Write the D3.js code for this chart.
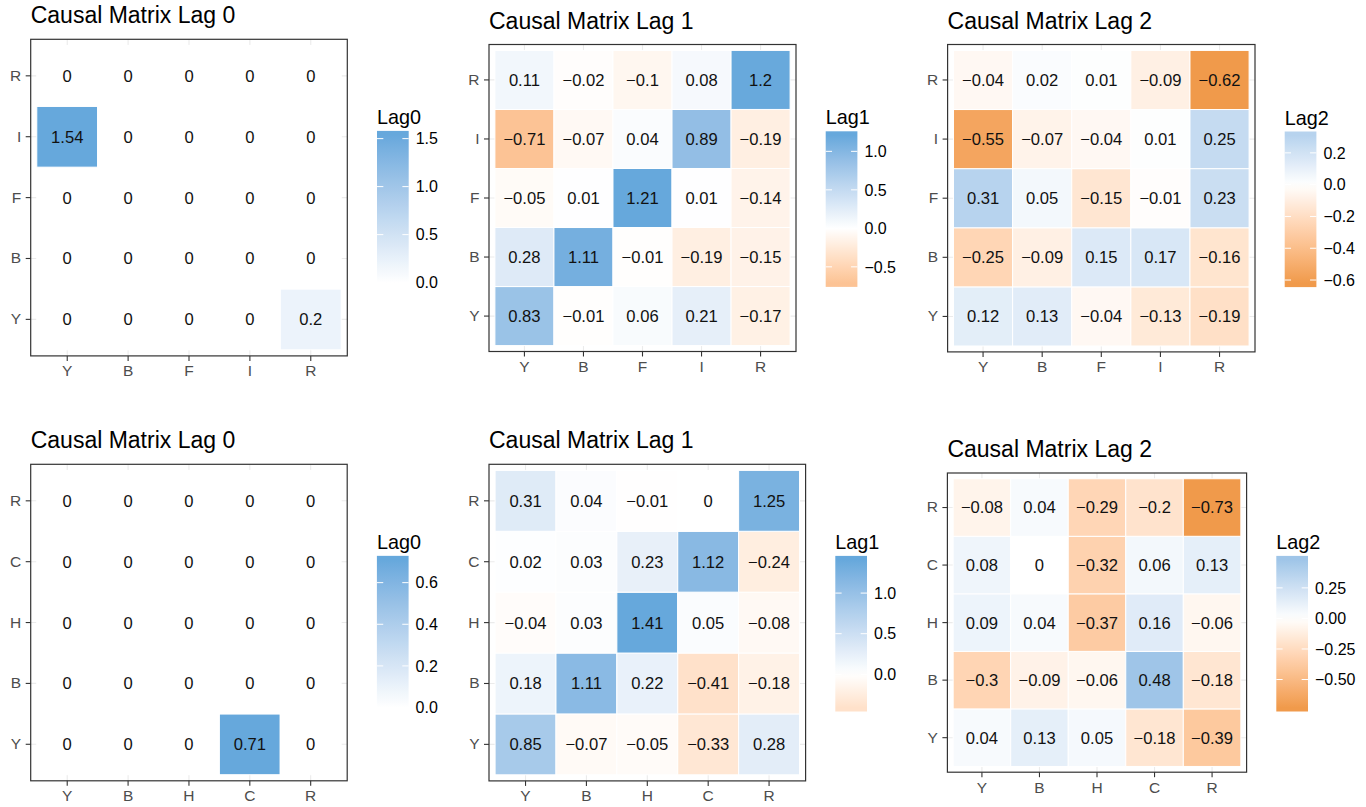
<!DOCTYPE html>
<html><head><meta charset="utf-8">
<script src="https://cdn.jsdelivr.net/npm/d3@7"></script>
<style>
body{margin:0;background:#fff}
svg{display:block}
text{font-family:"Liberation Sans",Arial,Helvetica,sans-serif}
.axis text{font-size:15.5px;fill:#4D4D4D}
</style>
</head><body>
<svg id="chart" width="1366" height="807"></svg>
<script>
// ---------------- data ----------------
const varsTop = ["Y", "B", "F", "I", "R"];
const varsBottom = ["Y", "B", "H", "C", "R"];

// rows follow the y categories (bottom to top), columns follow the x categories
const lag0Top = [
  [0, 0, 0, 0, 0.2],   // Y
  [0, 0, 0, 0, 0],     // B
  [0, 0, 0, 0, 0],     // F
  [1.54, 0, 0, 0, 0],  // I
  [0, 0, 0, 0, 0]      // R
];
const lag1Top = [
  [0.83, -0.01, 0.06, 0.21, -0.17],
  [0.28, 1.11, -0.01, -0.19, -0.15],
  [-0.05, 0.01, 1.21, 0.01, -0.14],
  [-0.71, -0.07, 0.04, 0.89, -0.19],
  [0.11, -0.02, -0.1, 0.08, 1.2]
];
const lag2Top = [
  [0.12, 0.13, -0.04, -0.13, -0.19],
  [-0.25, -0.09, 0.15, 0.17, -0.16],
  [0.31, 0.05, -0.15, -0.01, 0.23],
  [-0.55, -0.07, -0.04, 0.01, 0.25],
  [-0.04, 0.02, 0.01, -0.09, -0.62]
];
const lag0Bottom = [
  [0, 0, 0, 0.71, 0],
  [0, 0, 0, 0, 0],
  [0, 0, 0, 0, 0],
  [0, 0, 0, 0, 0],
  [0, 0, 0, 0, 0]
];
const lag1Bottom = [
  [0.85, -0.07, -0.05, -0.33, 0.28],
  [0.18, 1.11, 0.22, -0.41, -0.18],
  [-0.04, 0.03, 1.41, 0.05, -0.08],
  [0.02, 0.03, 0.23, 1.12, -0.24],
  [0.31, 0.04, -0.01, 0, 1.25]
];
const lag2Bottom = [
  [0.04, 0.13, 0.05, -0.18, -0.39],
  [-0.3, -0.09, -0.06, 0.48, -0.18],
  [0.09, 0.04, -0.37, 0.16, -0.06],
  [0.08, 0, -0.32, 0.06, 0.13],
  [-0.08, 0.04, -0.29, -0.2, -0.73]
];

const titles = ["Causal Matrix Lag 0", "Causal Matrix Lag 1", "Causal Matrix Lag 2",
                "Causal Matrix Lag 0", "Causal Matrix Lag 1", "Causal Matrix Lag 2"];
const legendTitles = ["Lag0", "Lag1", "Lag2", "Lag0", "Lag1", "Lag2"];
const legendTicksLag0Top = ["0.0", "0.5", "1.0", "1.5"];
const legendTicksLag1Top = ["-0.5", "0.0", "0.5", "1.0"];
const legendTicksLag2Top = ["-0.6", "-0.4", "-0.2", "0.0", "0.2"];
const legendTicksLag0Bottom = ["0.0", "0.2", "0.4", "0.6"];
const legendTicksLag1Bottom = ["0.0", "0.5", "1.0"];
const legendTicksLag2Bottom = ["-0.50", "-0.25", "0.00", "0.25"];

const panelData = [
  {vars: varsTop, values: lag0Top, ticks: legendTicksLag0Top},
  {vars: varsTop, values: lag1Top, ticks: legendTicksLag1Top},
  {vars: varsTop, values: lag2Top, ticks: legendTicksLag2Top},
  {vars: varsBottom, values: lag0Bottom, ticks: legendTicksLag0Bottom},
  {vars: varsBottom, values: lag1Bottom, ticks: legendTicksLag1Bottom},
  {vars: varsBottom, values: lag2Bottom, ticks: legendTicksLag2Bottom}
];

// ---------------- layout & style ----------------
const layout = [
  {x: 30.7, y: 39.3, size: 316.6},
  {x: 489.0, y: 44.5, size: 307.0},
  {x: 947.6, y: 44.5, size: 307.4},
  {x: 30.7, y: 464.3, size: 316.5},
  {x: 489.0, y: 464.3, size: 316.6},
  {x: 947.4, y: 473.0, size: 299.2}
];
const LOW = "#F09A4B", MID = "#FFFFFF", HIGH = "#66A8DC";
const BAR_W = 31.7, BAR_H = 155.6;
const minus = s => String(s).replace(/-/g, "\u2212");

const svg = d3.select("#chart");
svg.append("rect").attr("width", 1366).attr("height", 807).attr("fill", "#fff");
let gradId = 0;

panelData.forEach((pd, i) => {
  const L = layout[i];
  const g = svg.append("g");
  const x0 = L.x, y0 = L.y, s = L.size;

  const x = d3.scaleBand().domain(pd.vars).range([x0, x0 + s]).paddingInner(0).paddingOuter(0.1);
  const y = d3.scaleBand().domain(pd.vars).range([y0 + s, y0]).paddingInner(0).paddingOuter(0.1);

  const cells = [];
  pd.values.forEach((row, r) => row.forEach((v, c) => cells.push({xv: pd.vars[c], yv: pd.vars[r], v})));
  const vmin = d3.min(cells, d => d.v), vmax = d3.max(cells, d => d.v);
  const m = Math.max(Math.abs(vmin), Math.abs(vmax));
  const color = d3.scaleLinear().domain([-m, 0, m]).range([LOW, MID, HIGH]).interpolate(d3.interpolateLab);

  // panel background + grid
  g.append("rect").attr("x", x0).attr("y", y0).attr("width", s).attr("height", s).attr("fill", "#fff");
  pd.vars.forEach(v => {
    const cx = x(v) + x.bandwidth() / 2, cy = y(v) + y.bandwidth() / 2;
    g.append("line").attr("x1", cx).attr("x2", cx).attr("y1", y0).attr("y2", y0 + s)
      .attr("stroke", "#EBEBEB").attr("stroke-width", 1.1);
    g.append("line").attr("x1", x0).attr("x2", x0 + s).attr("y1", cy).attr("y2", cy)
      .attr("stroke", "#EBEBEB").attr("stroke-width", 1.1);
  });

  // tiles
  g.selectAll("rect.tile").data(cells).join("rect").attr("class", "tile")
    .attr("x", d => x(d.xv)).attr("y", d => y(d.yv))
    .attr("width", x.bandwidth()).attr("height", y.bandwidth())
    .attr("fill", d => color(d.v)).attr("stroke", "#fff").attr("stroke-width", 1);

  g.selectAll("text.cell").data(cells).join("text").attr("class", "cell")
    .attr("x", d => x(d.xv) + x.bandwidth() / 2).attr("y", d => y(d.yv) + y.bandwidth() / 2)
    .attr("dy", "0.36em").attr("text-anchor", "middle")
    .attr("font-size", 16.6).attr("fill", "#111")
    .text(d => minus(d.v));

  // border
  g.append("rect").attr("x", x0).attr("y", y0).attr("width", s).attr("height", s)
    .attr("fill", "none").attr("stroke", "#333").attr("stroke-width", 1.2);

  // axes
  const ax = g.append("g").attr("class", "axis").attr("transform", `translate(0,${y0 + s})`)
    .call(d3.axisBottom(x).tickSize(5).tickPadding(4.5));
  const ay = g.append("g").attr("class", "axis").attr("transform", `translate(${x0},0)`)
    .call(d3.axisLeft(y).tickSize(5).tickPadding(4.5));
  [ax, ay].forEach(a => {
    a.attr("font-size", 15.5).attr("font-family", "'Liberation Sans',Arial,Helvetica,sans-serif");
    a.select(".domain").remove();
    a.selectAll(".tick line").attr("stroke", "#333").attr("stroke-width", 1.1);
    a.selectAll(".tick text").attr("fill", "#4D4D4D");
  });

  // title
  g.append("text").attr("x", x0).attr("y", y0 - 16).attr("font-size", 23).attr("fill", "#000")
    .text(titles[i]);

  // legend
  const cy = y0 + s / 2;
  const bx = x0 + s + 29.7, by = cy - 66.7;
  const id = "grad" + (gradId++);
  const grad = svg.append("defs").append("linearGradient").attr("id", id)
    .attr("x1", 0).attr("y1", 1).attr("x2", 0).attr("y2", 0);
  const nbin = 20;
  d3.range(nbin).forEach(k => {
    const v = vmin + k / (nbin - 1) * (vmax - vmin);
    grad.append("stop").attr("offset", (k + 0.5) / nbin).attr("stop-color", color(v));
  });
  g.append("rect").attr("x", bx).attr("y", by).attr("width", BAR_W).attr("height", BAR_H)
    .attr("fill", `url(#${id})`);
  const off = BAR_H / 40;
  const ly = d3.scaleLinear().domain([vmin, vmax]).range([by + BAR_H - off, by + off]);
  pd.ticks.forEach(t => {
    const v = parseFloat(t), ty = ly(v);
    g.append("line").attr("x1", bx).attr("x2", bx + BAR_W / 5).attr("y1", ty).attr("y2", ty)
      .attr("stroke", "#fff").attr("stroke-width", 1);
    g.append("line").attr("x1", bx + BAR_W * 4 / 5).attr("x2", bx + BAR_W).attr("y1", ty).attr("y2", ty)
      .attr("stroke", "#fff").attr("stroke-width", 1);
    g.append("text").attr("x", bx + BAR_W + 7).attr("y", ty).attr("dy", "0.36em")
      .attr("font-size", 16).attr("fill", "#000").text(minus(t));
  });
  g.append("text").attr("x", bx).attr("y", by - 7).attr("font-size", 19.8).attr("fill", "#000")
    .text(legendTitles[i]);
});
</script>
</body></html>
